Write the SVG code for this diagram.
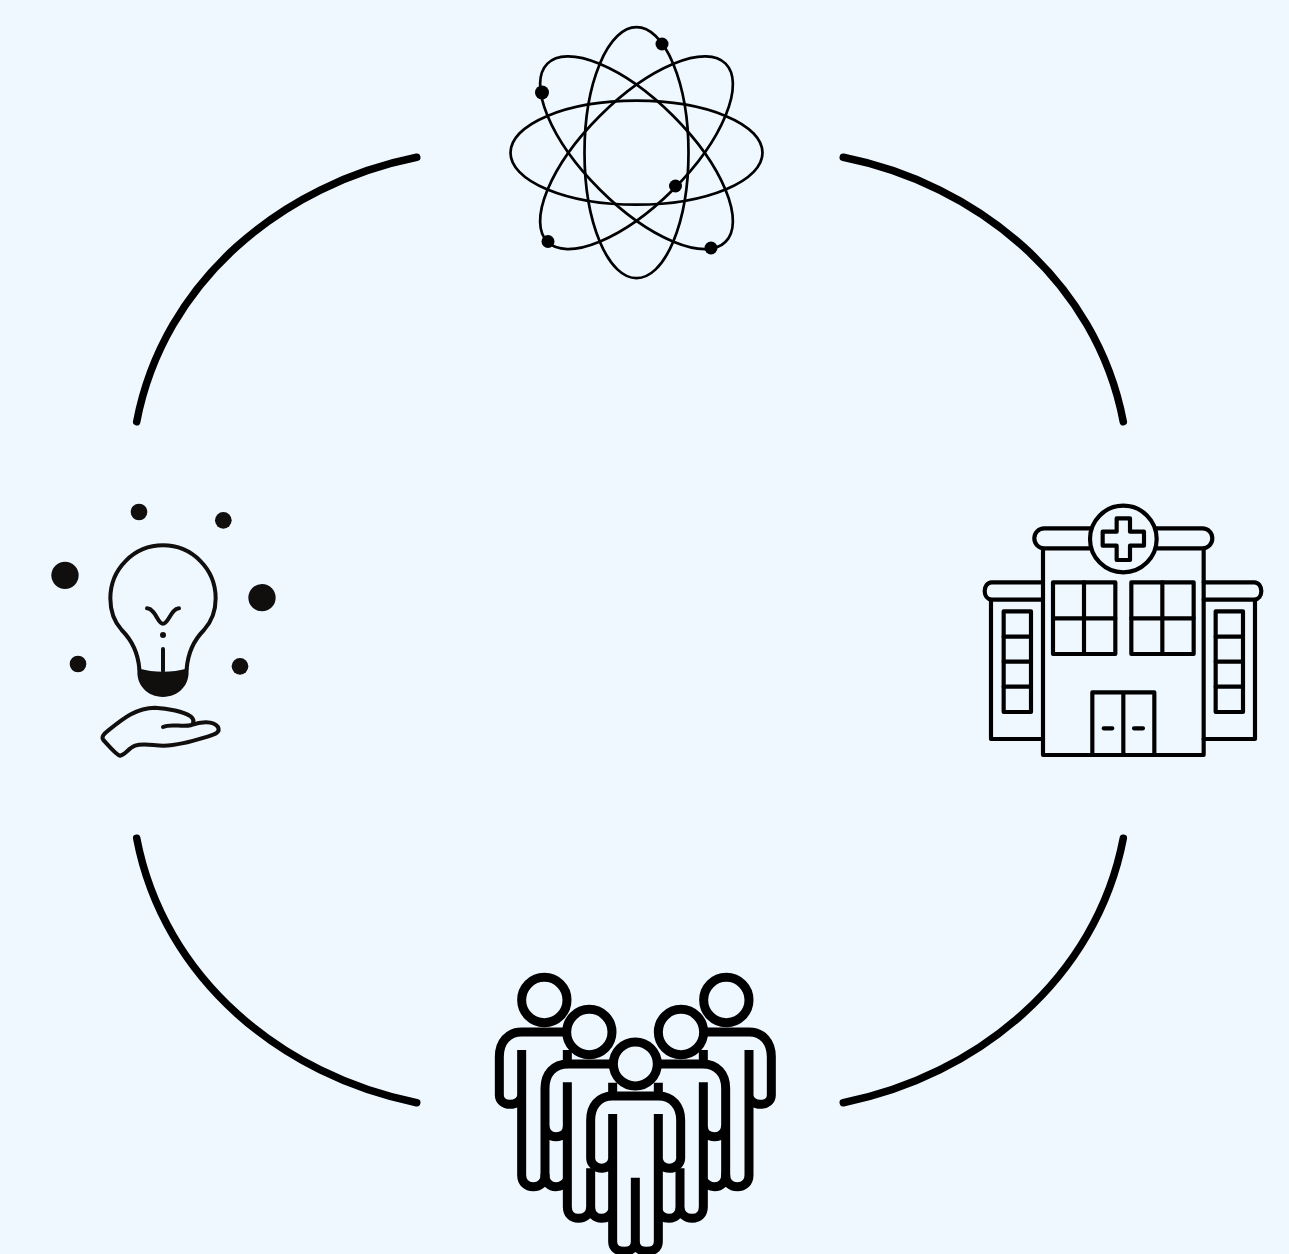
<svg xmlns="http://www.w3.org/2000/svg" xmlns:xlink="http://www.w3.org/1999/xlink" width="1289" height="1254" viewBox="0 0 1289 1254">
<style>
.arc{fill:none;stroke:#000;stroke-width:7.500;stroke-linecap:round}
.orb{fill:none;stroke:#000;stroke-width:2.700}
.el{fill:#000}
.dot{fill:#110f0e}
.bulb{fill:none;stroke:#110f0e;stroke-width:12;stroke-linecap:round;stroke-linejoin:round}
.hosp{fill:none;stroke:#000;stroke-width:12.500;stroke-linejoin:round;stroke-linecap:round}
.ppl{fill:none;stroke:#000;stroke-width:27;stroke-linejoin:round}
.head{fill:#eff7ff;stroke:#000;stroke-width:27}
</style>
<defs>
<g id="sideFig">
<path class="ppl" d="M225 216H95C55 216 28 245 28 290V405C28 422 42 433 60 433C78 433 95 422 95 405M95 270V645C95 668 110 680 130 680C150 680 165 668 165 645C165 668 180 680 198 680C212 680 225 672 232 660"/>
<path class="ppl" d="M232 270V302"/>
<path class="ppl" d="M365 312H235C190 312 165 342 165 385V650M165 495C165 518 180 530 198 530C216 530 232 518 232 498M232 367V740C232 762 245 775 265 775C285 775 302 762 302 740C302 762 315 775 335 775C350 775 362 768 368 752M302 625V745"/>
</g>
</defs>
<rect width="1289" height="1254" fill="#eff7ff"/>
<g id="connectors">
<path class="arc" d="M416.700 157.300C283 184 163.700 280.700 136.700 421.700"/>
<path class="arc" d="M843.300 157.300C977 184 1096.300 280.700 1123.300 421.700"/>
<path class="arc" d="M136.700 838.300C163.700 979.300 283 1076 416.700 1102.700"/>
<path class="arc" d="M1123.300 838.300C1096.300 979.300 977 1076 843.300 1102.700"/>
</g>
<g id="atom">
<ellipse class="orb" cx="636.500" cy="152.700" rx="126" ry="52"/>
<ellipse class="orb" cx="636.500" cy="152.700" rx="52" ry="125.500"/>
<ellipse class="orb" cx="636.500" cy="152.700" rx="126" ry="52" transform="rotate(45 636.500 152.700)"/>
<ellipse class="orb" cx="636.500" cy="152.700" rx="126" ry="52" transform="rotate(-45 636.500 152.700)"/>
<circle class="el" cx="662" cy="44" r="6.500"/>
<circle class="el" cx="542" cy="92.500" r="7"/>
<circle class="el" cx="675.500" cy="186" r="6.500"/>
<circle class="el" cx="548" cy="241.500" r="6.500"/>
<circle class="el" cx="711" cy="248" r="6.500"/>
</g>
<g id="idea" transform="translate(40 495) scale(.33333)">
<circle class="dot" cx="297" cy="51" r="25"/>
<circle class="dot" cx="550" cy="76" r="25"/>
<circle class="dot" cx="75" cy="241" r="41"/>
<circle class="dot" cx="666" cy="308" r="41"/>
<circle class="dot" cx="114" cy="507" r="25"/>
<circle class="dot" cx="600" cy="514" r="25"/>
<path class="bulb" d="M298 522C294 470 270 430 245 405C222 380 211 345 211 310C211 222 282 151 369 151C456 151 527 222 527 310C527 345 515 380 492 405C467 430 444 470 440 522"/>
<path class="dot" d="M293 520C345 534 393 534 445 520C452 570 415 606 369 606C323 606 286 570 293 520Z"/>
<path class="bulb" d="M321 340C348 342 352 386 369 386C386 386 392 342 417 340M369 462V528"/>
<circle class="dot" cx="369" cy="420" r="9"/>
<path class="bulb" d="M369 696C395 684 425 698 455 690C480 680 520 676 534 696C542 712 525 718 505 724C450 740 410 752 370 752C340 752 310 744 285 752C265 760 255 780 240 782C228 780 200 745 190 735C183 726 192 716 205 706C250 670 290 638 345 638C385 640 430 650 452 664C462 672 462 680 457 688"/>
</g>
<g id="hospital" transform="translate(975 495) scale(.33333)">
<path class="hosp" d="M204 165V780H686V165M204 780H686"/>
<path class="hosp" d="M350 100H208C190 100 178 114 178 130C178 146 190 160 208 160H350M540 100H682C700 100 712 114 712 130C712 146 700 160 682 160H540"/>
<path class="hosp" d="M204 262H50C37 262 29 275 29 288C29 302 37 313 50 314H204M686 262H838C851 262 859 275 859 288C859 302 851 313 838 314H686"/>
<path class="hosp" d="M48 315V732H204M840 315V732H686"/>
<rect class="hosp" x="86" y="349" width="82" height="302"/>
<path class="hosp" d="M86 425H168M86 500H168M86 575H168"/>
<rect class="hosp" x="722" y="349" width="82" height="302"/>
<path class="hosp" d="M722 425H804M722 500H804M722 575H804"/>
<rect class="hosp" x="234" y="262" width="187" height="215"/>
<path class="hosp" d="M327 262V477M234 370H421"/>
<rect class="hosp" x="469" y="262" width="187" height="215"/>
<path class="hosp" d="M562 262V477M469 370H656"/>
<path class="hosp" d="M352 780V592H538V780M445 592V780"/>
<path class="hosp" d="M386 700H412M477 700H504"/>
<circle class="hosp" cx="445" cy="132" r="100" style="fill:#eff7ff"/>
<path class="hosp" d="M425 70H465V110H507V152H465V195H425V152H383V110H425Z"/>
</g>
<g id="people" transform="translate(490 960) scale(.33333)">
<use xlink:href="#sideFig" href="#sideFig"/>
<use xlink:href="#sideFig" href="#sideFig" transform="matrix(-1 0 0 1 872 0)"/>
<path class="ppl" d="M368 368V410M505 368V410"/>
<path class="ppl" d="M368 408C325 408 302 440 302 480V595C302 612 318 625 335 625C352 625 368 612 368 595M368 462V845C368 865 385 874 403 874C420 874 436 865 436 845M436 653V845C436 865 452 874 470 874C488 874 505 865 505 845V462M505 595C505 612 520 625 538 625C555 625 572 612 572 595V480C572 440 548 408 505 408H368"/>
<circle class="head" cx="163" cy="120" r="68"/>
<circle class="head" cx="709" cy="120" r="68"/>
<circle class="head" cx="298" cy="216" r="68"/>
<circle class="head" cx="573" cy="216" r="68"/>
<circle class="head" cx="436" cy="312" r="66"/>
</g>
</svg>
